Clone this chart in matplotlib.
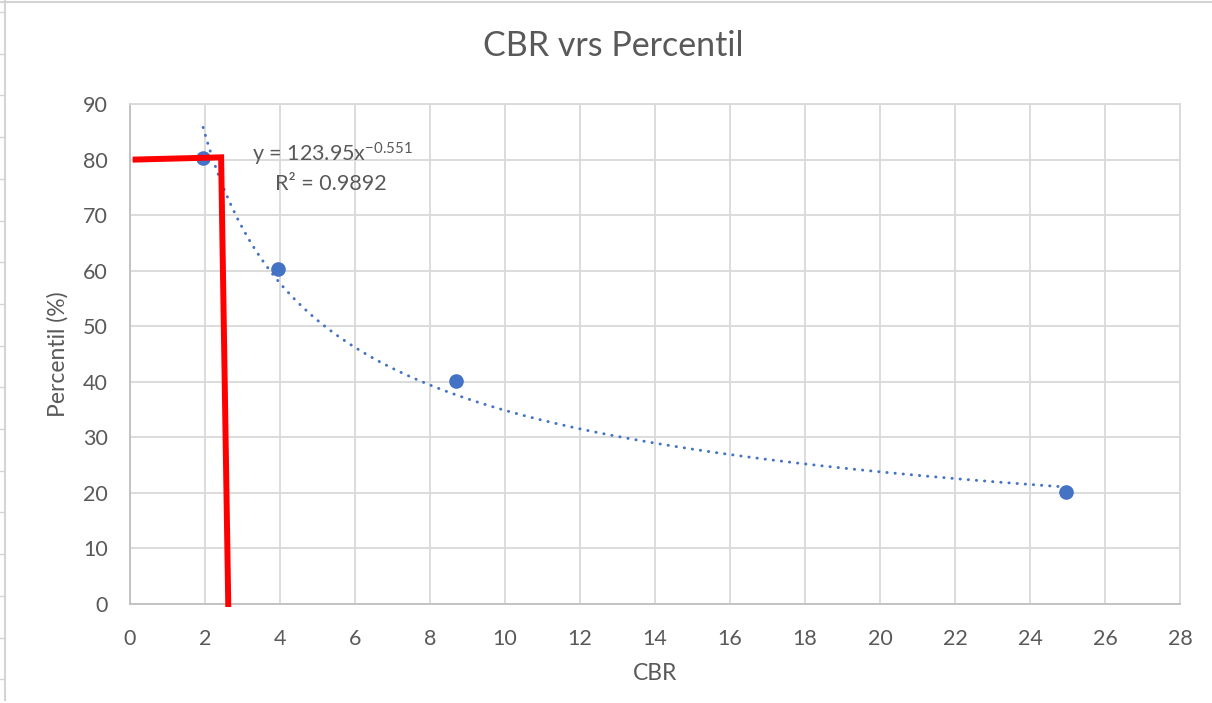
import matplotlib
matplotlib.use("Agg")
import matplotlib.pyplot as plt
from matplotlib.lines import Line2D
import numpy as np

plt.rcParams['font.family'] = ['Lato', 'DejaVu Sans']
plt.rcParams['mathtext.fontset'] = 'custom'
plt.rcParams['mathtext.rm'] = 'Lato'
plt.rcParams['mathtext.it'] = 'Lato:italic'

# data
cbr = [1.95, 3.95, 8.7, 24.95]
percentil = [80.3, 60.3, 40.2, 20.2]

# power trendline shown on the chart: y = a * x^b
trend_a = 123.95
trend_b = -0.551
r2 = 0.9892

# red guide line (80th percentile -> design CBR)
guide_x = [0.15, 2.43, 2.62]
guide_y = [80.0, 80.4, 0.0]

x_ticks = list(range(0, 30, 2))
y_ticks = list(range(0, 100, 10))

txt = '#595959'
grid = '#d9d9d9'
blue = '#4472C4'

fig = plt.figure(figsize=(12.12, 7.03), dpi=100)
ax = fig.add_axes([130/1212, 1 - 604/703, 1050/1212, 500/703])

# trendline
xt = np.linspace(min(cbr), max(cbr), 300)
ax.plot(xt, trend_a * xt ** trend_b, color=blue, lw=2.1,
        linestyle=(0, (0.1, 2.7)), dash_capstyle='round', zorder=3)

ax.plot(cbr, percentil, 'o', color=blue, markersize=9.5, zorder=4)
ax.plot(guide_x, guide_y, color='#ff0000', lw=4.3, solid_joinstyle='miter',
        clip_on=False, zorder=5)

ax.text(3.25, 80.9, r'y = 123.95x$^{\mathrm{-0.551}}$', fontsize=15.5,
        color=txt, va='center', ha='left')
ax.text(3.87, 75.6, 'R² = %.4f' % r2, fontsize=15.5, color=txt,
        va='center', ha='left')

ax.set_xlim(0, 28)
ax.set_ylim(0, 90)
ax.set_xticks(x_ticks)
ax.set_yticks(y_ticks)
ax.grid(True, color=grid, lw=1.3)
ax.set_axisbelow(True)
for s in ax.spines.values():
    s.set_color(grid)
    s.set_linewidth(1.3)
ax.spines['left'].set_color('#bfbfbf')
ax.spines['bottom'].set_color('#bfbfbf')
ax.tick_params(length=0, labelsize=15.5, labelcolor=txt)
ax.tick_params(axis='x', pad=18)
ax.tick_params(axis='y', pad=16)

ax.set_xlabel('CBR', fontsize=16.5, color=txt, labelpad=10)
ax.set_ylabel('Percentil (%)', fontsize=16.5, color=txt, labelpad=10)
fig.text(613/1212, 1 - 46/703, 'CBR vrs Percentil', fontsize=24.5,
         color=txt, ha='center', va='center')

# spreadsheet edges around the screenshot
fig.add_artist(Line2D([0, 1], [1 - 1.5/703] * 2, color='#d4d4d4', lw=1.5))
fig.add_artist(Line2D([5/1212] * 2, [1, 1 - 700/703], color='#d4d4d4', lw=1.5))
for yy in np.arange(12, 700, 41.7):
    fig.add_artist(Line2D([0, 5/1212], [1 - yy/703] * 2, color='#d4d4d4', lw=1))

fig.savefig('out.png', dpi=100)
